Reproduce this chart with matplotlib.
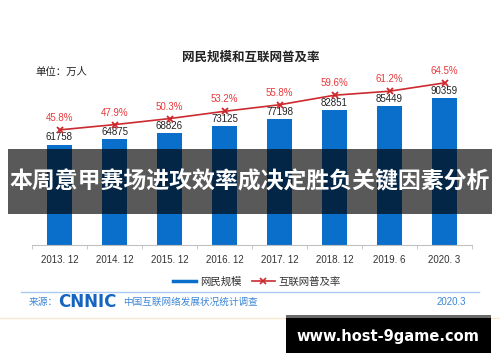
import matplotlib
matplotlib.use("Agg")
import matplotlib.pyplot as plt
from matplotlib.patches import Rectangle
from matplotlib.lines import Line2D

plt.rcParams['font.family'] = ['Liberation Sans', 'Noto Sans CJK SC', 'DejaVu Sans']

categories = ["2013. 12", "2014. 12", "2015. 12", "2016. 12", "2017. 12", "2018. 12", "2019. 6", "2020. 3"]
users = [61758, 64875, 68826, 73125, 77198, 82851, 85449, 90359]
rate = [45.8, 47.9, 50.3, 53.2, 55.8, 59.6, 61.2, 64.5]
rate_labels = ["45.8%", "47.9%", "50.3%", "53.2%", "55.8%", "59.6%", "61.2%", "64.5%"]

W, H = 500, 362
fig = plt.figure(figsize=(5, 3.62), dpi=100)
fig.patch.set_facecolor('white')

def fx(px):
    return px / W

def fy(py):
    return 1 - py / H

ax = fig.add_axes([fx(32), fy(245), fx(440), 195 / H])
ax.set_facecolor('none')
x = list(range(len(categories)))
ax.bar(x, users, width=0.47, color='#0a6ecb', zorder=2)
ax.set_xlim(-0.5, 7.5)
ax.set_ylim(0, 195 / 0.001627)
for s in ['top', 'right', 'left']:
    ax.spines[s].set_visible(False)
ax.spines['bottom'].set_color('#c0c0c0')
ax.set_yticks([])
ax.set_xticks(x)
ax.set_xticklabels(categories, fontsize=7, color='#333333')
ax.tick_params(axis='x', which='major', length=0, pad=7)
ax.set_xticks([i - 0.5 for i in range(len(categories) + 1)], minor=True)
ax.tick_params(axis='x', which='minor', length=3, color='#c0c0c0', direction='out')
for xi, v in zip(x, users):
    ax.annotate(str(v), (xi, v), xytext=(0, 1.5), textcoords='offset points',
                ha='center', va='bottom', fontsize=7, color='#222222', zorder=3)

ax2 = ax.twinx()
ax2.set_ylim(0, 195 / 2.513)
ax2.axis('off')
ax2.plot(x, rate, color='#cc2a2f', lw=1.2, marker='x', ms=5, mew=1.3, mec='#d0262b', zorder=4)
for xi, v, lab in zip(x, rate, rate_labels):
    ax2.annotate(lab, (xi, v), xytext=(0, 5), textcoords='offset points',
                 ha='center', va='bottom', fontsize=7, color='#e8393c')

fig.text(fx(251), fy(58), "网民规模和互联网普及率", fontsize=9, fontweight='bold',
         ha='center', va='center', color='#222222')
fig.text(fx(35), fy(72), "单位：万人", fontsize=7.5, ha='left', va='center', color='#222222')

handles = [Line2D([], [], color='#0a6ecb', lw=2.5),
           Line2D([], [], color='#cc2a2f', lw=1.2, marker='x', ms=4, mew=1.2)]
fig.legend(handles, ["网民规模", "互联网普及率"], loc='center', bbox_to_anchor=(fx(257), fy(282)),
           ncol=2, frameon=False, fontsize=7.5, handlelength=2.2, handletextpad=0.4,
           columnspacing=1.0, labelcolor='#333333')

fig.add_artist(Line2D([fx(21), fx(479)], [fy(292), fy(292)], color='#a9c9ee', lw=1))
fig.text(fx(29), fy(302), "来源：", fontsize=7, color='#3d86d6', ha='left', va='center')
fig.text(fx(58), fy(302), "CNNIC", fontsize=12, fontweight='bold', color='#1565c0',
         ha='left', va='center', family='DejaVu Sans')
fig.text(fx(123), fy(302), "中国互联网络发展状况统计调查", fontsize=6.9, color='#3d86d6',
         ha='left', va='center')
fig.text(fx(466), fy(302), "2020.3", fontsize=7, color='#3d86d6', ha='right', va='center')
fig.add_artist(Line2D([0, 1], [fy(318), fy(318)], color='#f6ead2', lw=1))

# banner overlay
fig.add_artist(Rectangle((fx(8), fy(214)), fx(484), 65 / H, facecolor='black', alpha=0.65,
                         edgecolor='none', zorder=10))
fig.text(fx(250), fy(182), "本周意甲赛场进攻效率成决定胜负关键因素分析", fontsize=16.5,
         fontweight='bold', color='white', ha='center', va='center', zorder=11,
         family=['Noto Sans CJK SC'])

# website box
fig.add_artist(Rectangle((fx(286), fy(353)), fx(205), 38 / H, facecolor='black',
                         edgecolor='none', zorder=10))
fig.add_artist(Rectangle((fx(286), fy(318)), fx(205), 3.5 / H, facecolor='#6a6a6a',
                         edgecolor='none', zorder=11))
fig.text(fx(388), fy(336), "www.host-9game.com", fontsize=10.5, fontweight='bold',
         color='white', ha='center', va='center', zorder=12, family='DejaVu Sans')

fig.savefig("out.png", dpi=100)
